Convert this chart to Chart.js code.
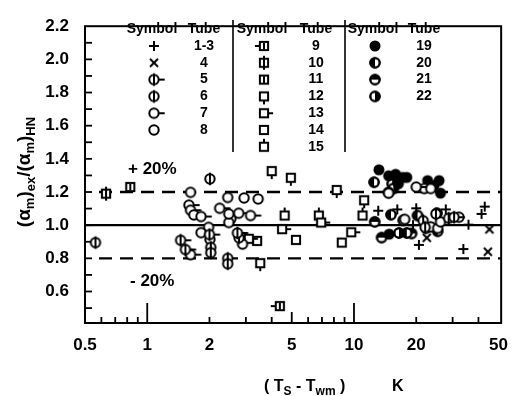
<!DOCTYPE html>
<html>
<head>
<meta charset="utf-8">
<script src="https://cdn.jsdelivr.net/npm/chart.js@4/dist/chart.umd.min.js"></script>
<style>
  html, body { margin: 0; padding: 0; background: #fff; }
  #wrap { width: 520px; height: 396px; }
</style>
</head>
<body>
<div id="wrap"><canvas id="chart1" width="520" height="396"></canvas></div>
<script>
// data: [T_s - T_wm (K), ratio]
const tube1_3 = [[13.1,1.087],[16.2,1.095],[19.3,1.0],[20.0,1.102],[27.8,1.095],[20.6,0.881],[33.8,0.856],[35.8,1.003],[42.9,1.112],[41.4,1.068]];
const tube4 = [[22.5,0.924],[45.2,0.975],[44.4,0.84]];
const tube5 = [[1.45,0.909],[1.53,0.853],[2.0,0.943],[2.73,0.953],[30.5,1.048]];
const tube6 = [[0.562,0.895],[2.01,1.279],[2.03,0.866],[2.03,0.834],[2.45,0.80],[2.45,0.767],[2.78,0.924],[21.6,1.027],[24.9,1.068],[28.7,1.042],[22.1,0.987]];
const tube7 = [[1.59,1.121],[1.62,1.09],[1.68,1.062],[1.82,1.052],[1.62,0.822],[2.24,1.102],[2.48,1.068],[2.77,1.072],[3.16,1.058],[20.0,1.23]];
const tube8 = [[1.62,1.198],[1.98,0.987],[1.82,0.955],[2.01,0.914],[2.45,1.167],[2.54,1.039],[2.48,1.016],[2.94,1.164],[3.44,1.158],[2.89,0.886],[21.9,1.221],[23.5,1.221],[14.7,1.193],[17.6,1.035],[22.3,0.981],[23.5,0.99],[25.4,0.981],[26.2,1.02],[32.2,1.048]];
const tube9 = [[4.38,0.512]];
const tube10 = [[0.632,1.19]];
const tube11 = [[0.828,1.23]];
const tube12 = [[4.0,1.326],[4.95,1.286],[3.52,0.771],[8.25,1.212],[11.2,1.150]];
const tube13 = [[3.1,0.918],[4.49,0.976],[6.94,1.016],[9.7,0.957]];
const tube14 = [[3.4,0.905],[5.24,0.911],[8.73,0.895]];
const tube15 = [[4.62,1.058],[6.76,1.058],[11.0,1.058]];
const tube19 = [[13.2,1.334],[14.7,1.298],[15.9,1.307],[17.2,1.288],[18.0,1.288],[16.4,1.25],[22.7,1.269],[24.4,1.24],[25.8,1.269],[26.2,1.193],[14.8,0.946]];
const tube20 = [[12.5,1.259],[15.1,1.063],[14.7,1.198],[25.4,0.963],[20.3,1.058],[18.0,0.953]];
const tube21 = [[12.6,1.02],[13.6,0.925],[25.2,1.072],[19.0,0.95]];
const tube22 = [[15.3,1.25],[15.5,1.221],[17.3,1.029],[16.5,0.953]];

const xTicks = [0.5, 1, 2, 5, 10, 20, 50];
const xTickLabels = ['0.5', '1', '2', '5', '10', '20', '50'];
const yTicks = [0.6, 0.8, 1.0, 1.2, 1.4, 1.6, 1.8, 2.0, 2.2];
const bandLines = [0.8, 1.2];

// legend table: [symbol, tube]
const legendCol1 = [['plus','1-3'],['cross','4'],['circVTail','5'],['circV','6'],['circTail','7'],['circ','8']];
const legendCol2 = [['sqLTail','9'],['sqStem','10'],['sqV','11'],['sqDown','12'],['sqTail','13'],['sq','14'],['sqUp','15']];
const legendCol3 = [['full','19'],['halfL','20'],['halfT','21'],['halfR','22']];

const FONT = '"Liberation Sans", Arial, sans-serif';

// marker images
let markers = {};
function makeMarker(type) {
    let c = document.createElement('canvas');
    c.width = 30; c.height = 30;
    let g = c.getContext('2d');
    g.strokeStyle = '#000'; g.fillStyle = '#fff'; g.lineWidth = 2;
    let cx = 15, cy = 15, r = 4.7, h = 4.1;
    let circle = () => { g.beginPath(); g.arc(cx, cy, r, 0, Math.PI*2); g.fillStyle = '#fff'; g.fill(); g.stroke(); };
    let square = () => { g.fillStyle = '#fff'; g.fillRect(cx-h, cy-h, 2*h, 2*h); g.strokeRect(cx-h, cy-h, 2*h, 2*h); };
    let line = (x1, y1, x2, y2) => { g.beginPath(); g.moveTo(x1, y1); g.lineTo(x2, y2); g.stroke(); };
    let half = (a0, a1) => { g.beginPath(); g.moveTo(cx, cy); g.arc(cx, cy, r, a0, a1); g.closePath(); g.fillStyle = '#000'; g.fill(); };
    if (type === 'plus') { line(cx-5, cy, cx+5, cy); line(cx, cy-5, cx, cy+5); }
    if (type === 'cross') { line(cx-4, cy-4, cx+4, cy+4); line(cx-4, cy+4, cx+4, cy-4); }
    if (type.startsWith('circ')) circle();
    if (type === 'circV' || type === 'circVTail') line(cx, cy-r-1.5, cx, cy+r+1.5);
    if (type === 'circTail' || type === 'circVTail') line(cx+r, cy, cx+r+6, cy);
    if (type.startsWith('sq')) square();
    if (type === 'sqV' || type === 'sqLTail') line(cx, cy-h+1, cx, cy+h-1);
    if (type === 'sqLTail') line(cx-h-5, cy, cx-h, cy);
    if (type === 'sqStem') { line(cx, cy-h-3, cx, cy+h+3); }
    if (type === 'sqDown') line(cx, cy+h, cx, cy+h+4);
    if (type === 'sqUp') line(cx, cy-h-4, cx, cy-h);
    if (type === 'sqTail') line(cx+h, cy, cx+h+5, cy);
    if (type === 'full') { g.beginPath(); g.arc(cx, cy, r+0.8, 0, Math.PI*2); g.fillStyle = '#000'; g.fill(); }
    if (type.startsWith('half')) {
        circle();
        if (type === 'halfL') half(Math.PI/2, Math.PI*1.5);
        if (type === 'halfR') half(-Math.PI/2, Math.PI/2);
        if (type === 'halfT') half(Math.PI, Math.PI*2);
        g.beginPath(); g.arc(cx, cy, r, 0, Math.PI*2); g.stroke();
    }
    return c;
}
['plus','cross','circVTail','circV','circTail','circ','sqLTail','sqStem','sqV','sqDown','sqTail','sq','sqUp','full','halfL','halfT','halfR']
    .forEach(t => markers[t] = makeMarker(t));

const series = [
    [tube1_3, 'plus'], [tube4, 'cross'], [tube5, 'circVTail'], [tube6, 'circV'], [tube7, 'circTail'], [tube8, 'circ'],
    [tube9, 'sqLTail'], [tube10, 'sqStem'], [tube11, 'sqV'], [tube12, 'sqDown'], [tube13, 'sqTail'], [tube14, 'sq'], [tube15, 'sqUp'],
    [tube19, 'full'], [tube20, 'halfL'], [tube21, 'halfT'], [tube22, 'halfR']
];

// frame, inward ticks, reference lines, legend table and axis titles
const decor = {
    id: 'decor',
    beforeDatasetsDraw(chart) {
        let ctx = chart.ctx, a = chart.chartArea;
        let xs = chart.scales.x, ys = chart.scales.y;
        ctx.save();
        ctx.strokeStyle = '#000';
        // +-20% lines
        ctx.lineWidth = 2.4;
        ctx.setLineDash([13, 8]);
        bandLines.forEach(v => {
            let y = ys.getPixelForValue(v);
            ctx.beginPath(); ctx.moveTo(a.left + 14, y); ctx.lineTo(a.right, y); ctx.stroke();
        });
        ctx.setLineDash([]);
        let y1 = ys.getPixelForValue(1.0);
        ctx.lineWidth = 2.4;
        ctx.beginPath(); ctx.moveTo(a.left, y1); ctx.lineTo(a.right, y1); ctx.stroke();
        // frame
        ctx.lineWidth = 2;
        ctx.strokeRect(a.left, a.top, a.right - a.left, a.bottom - a.top);
        // y ticks every 0.1
        ctx.lineWidth = 1.8;
        for (let v = 0.5; v < 2.15; v += 0.1) {
            let y = ys.getPixelForValue(v);
            ctx.beginPath(); ctx.moveTo(a.left, y); ctx.lineTo(a.left + 7, y); ctx.stroke();
        }
        // x ticks
        [0.6,0.7,0.8,0.9,1,2,3,4,5,6,7,8,9,10,20,30,40].forEach(v => {
            let x = xs.getPixelForValue(v);
            let len = (v === 1 || v === 10) ? 20 : (v === 5 ? 11 : 6);
            ctx.beginPath(); ctx.moveTo(x, a.bottom); ctx.lineTo(x, a.bottom - len); ctx.stroke();
        });
        // legend table
        ctx.fillStyle = '#000';
        ctx.font = 'bold 14px ' + FONT;
        ctx.textBaseline = 'middle';
        ctx.textAlign = 'center';
        let cols = [[legendCol1, 152, 204], [legendCol2, 262, 316], [legendCol3, 373, 424]];
        cols.forEach(([rows, sx, tx]) => {
            ctx.fillText('Symbol', sx, 29);
            ctx.fillText('Tube', tx, 29);
            rows.forEach((r, i) => {
                let y = 46 + i * 16.8;
                ctx.drawImage(markers[r[0]], sx + 2 - 15, y - 15);
                ctx.fillText(r[1], tx, y);
            });
        });
        ctx.lineWidth = 1.6;
        [233, 345].forEach(x => { ctx.beginPath(); ctx.moveTo(x, 20); ctx.lineTo(x, 152); ctx.stroke(); });
        // percent labels
        ctx.font = 'bold 17px ' + FONT;
        ctx.textAlign = 'left';
        ctx.fillText('+ 20%', 128, 169);
        ctx.fillText('- 20%', 130, 281);
        ctx.restore();
    },
    afterDraw(chart) {
        let ctx = chart.ctx;
        ctx.save();
        ctx.fillStyle = '#000';
        ctx.textBaseline = 'alphabetic';
        // x title
        let big = 'bold 16px ' + FONT, small = 'bold 12px ' + FONT;
        let parts = [['( T', big, 0], ['S', small, 4], [' - T', big, 0], ['wm', small, 4], [' )', big, 0]];
        let x = 264;
        parts.forEach(([t, f, dy]) => { ctx.font = f; ctx.fillText(t, x, 391 + dy); x += ctx.measureText(t).width; });
        ctx.font = big;
        ctx.fillText('K', 392, 391);
        // y title, rotated
        let yb = 'bold 19px ' + FONT, ys2 = 'bold 13px ' + FONT;
        let tparts = [['(α', yb, 0], ['m', ys2, 4], [')', yb, 0], ['ex', ys2, 5], ['/(α', yb, 0], ['m', ys2, 4], [')', yb, 0], ['HN', ys2, 5]];
        let total = 0;
        tparts.forEach(([t, f]) => { ctx.font = f; total += ctx.measureText(t).width; });
        ctx.translate(30, 172);
        ctx.rotate(-Math.PI / 2);
        let tx = -total / 2;
        tparts.forEach(([t, f, dy]) => { ctx.font = f; ctx.fillText(t, tx, dy); tx += ctx.measureText(t).width; });
        ctx.restore();
    }
};

new Chart(document.getElementById('chart1').getContext('2d'), {
    type: 'scatter',
    data: {
        datasets: series.map(([pts, style]) => ({
            data: pts.map(p => ({ x: p[0], y: p[1] })),
            pointStyle: markers[style],
            pointRadius: 5,
            borderColor: '#000',
            backgroundColor: '#fff'
        }))
    },
    options: {
        responsive: false,
        animation: false,
        events: [],
        layout: { padding: { left: 0, right: 8, top: 13, bottom: 0 } },
        plugins: { legend: { display: false }, tooltip: { enabled: false } },
        scales: {
            x: {
                type: 'logarithmic',
                min: 0.5, max: 51.5,
                grid: { display: false, drawTicks: false },
                border: { display: false },
                afterBuildTicks: s => { s.ticks = xTicks.map(v => ({ value: v })); },
                afterFit: s => { s.height = 73; },
                ticks: {
                    autoSkip: false, maxRotation: 0, padding: 12, color: '#000',
                    font: { family: FONT, size: 17, weight: 'bold' },
                    callback: (v) => { let i = xTicks.indexOf(v); return i >= 0 ? xTickLabels[i] : ''; }
                }
            },
            y: {
                min: 0.41, max: 2.2,
                grid: { display: false, drawTicks: false },
                border: { display: false },
                afterBuildTicks: s => { s.ticks = yTicks.map(v => ({ value: v })); },
                afterFit: s => { s.width = 85; },
                ticks: {
                    padding: 16, color: '#000',
                    font: { family: FONT, size: 17, weight: 'bold' },
                    callback: v => Number(v).toFixed(1)
                }
            }
        }
    },
    plugins: [decor]
});
</script>
</body>
</html>
